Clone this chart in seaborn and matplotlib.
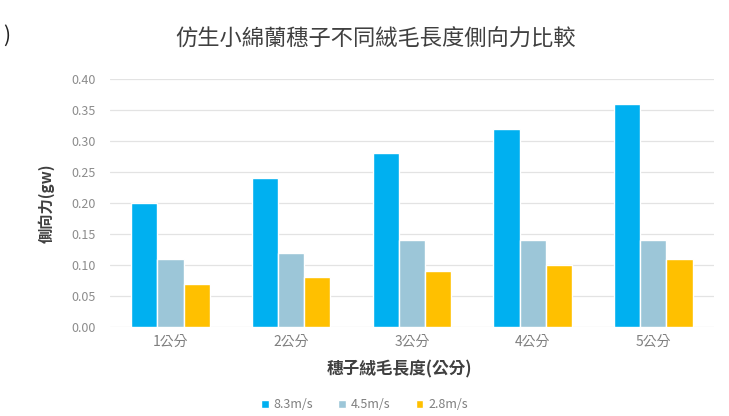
import matplotlib
matplotlib.use("Agg")
import matplotlib.pyplot as plt
import seaborn as sns
import pandas as pd

# Lateral force by tassel fibre length, at three wind speeds
lengths = ["1公分", "2公分", "3公分", "4公分", "5公分"]
speeds = ["8.3m/s", "4.5m/s", "2.8m/s"]
force_83 = [0.20, 0.24, 0.28, 0.32, 0.36]
force_45 = [0.11, 0.12, 0.14, 0.14, 0.14]
force_28 = [0.07, 0.08, 0.09, 0.10, 0.11]
y_ticks = [0.00, 0.05, 0.10, 0.15, 0.20, 0.25, 0.30, 0.35, 0.40]

colors = ["#00B0F0", "#9CC6D8", "#FFC000"]

df = pd.DataFrame({
    "length": lengths * 3,
    "speed": [speeds[0]] * 5 + [speeds[1]] * 5 + [speeds[2]] * 5,
    "force": force_83 + force_45 + force_28,
})

sns.set_theme(style="white")
plt.rcParams["font.family"] = ["Noto Sans CJK TC", "DejaVu Sans"]

fig = plt.figure(figsize=(7.29, 4.16), dpi=100)
ax = fig.add_axes([0.151, 0.214, 0.828, 0.596])

sns.barplot(data=df, x="length", y="force", hue="speed", order=lengths,
            hue_order=speeds, palette=colors, width=0.65, saturation=1,
            errorbar=None, ax=ax, legend=True, zorder=3)

ax.set_ylim(0, 0.40)
ax.set_xlim(-0.5, 4.5)
ax.set_yticks(y_ticks)
ax.set_yticklabels([f"{v:.2f}" for v in y_ticks], color="#8c8c8c", fontsize=9)
ax.tick_params(axis="x", colors="#7f7f7f", labelsize=10, length=0, pad=6)
ax.tick_params(axis="y", length=0, pad=10)
ax.yaxis.grid(True, color="#e3e3e3", linewidth=0.9, zorder=0)
for s in ax.spines.values():
    s.set_visible(False)

ax.set_xlabel("穗子絨毛長度(公分)", fontsize=12, fontweight="bold",
              color="#404040", labelpad=4)
ax.xaxis.set_label_coords(0.48, -0.135)
ax.set_ylabel("側向力(gw)", fontsize=11, fontweight="bold", color="#404040",
              labelpad=12)

fig.text(0.515, 0.905, "仿生小綿蘭穗子不同絨毛長度側向力比較", ha="center",
         va="center", fontsize=16, color="#404040")
fig.text(0.005, 0.915, ")", ha="left", va="center", fontsize=15, color="#222222")

handles, labels = ax.get_legend_handles_labels()
ax.legend_.remove()
fig.legend(handles, labels, loc="center", bbox_to_anchor=(0.50, 0.027),
           ncol=3, frameon=False, fontsize=9, handlelength=0.6,
           handleheight=0.6, columnspacing=2.0, handletextpad=0.4,
           labelcolor="#7f7f7f")

fig.savefig("out.png", dpi=100, facecolor="white")
